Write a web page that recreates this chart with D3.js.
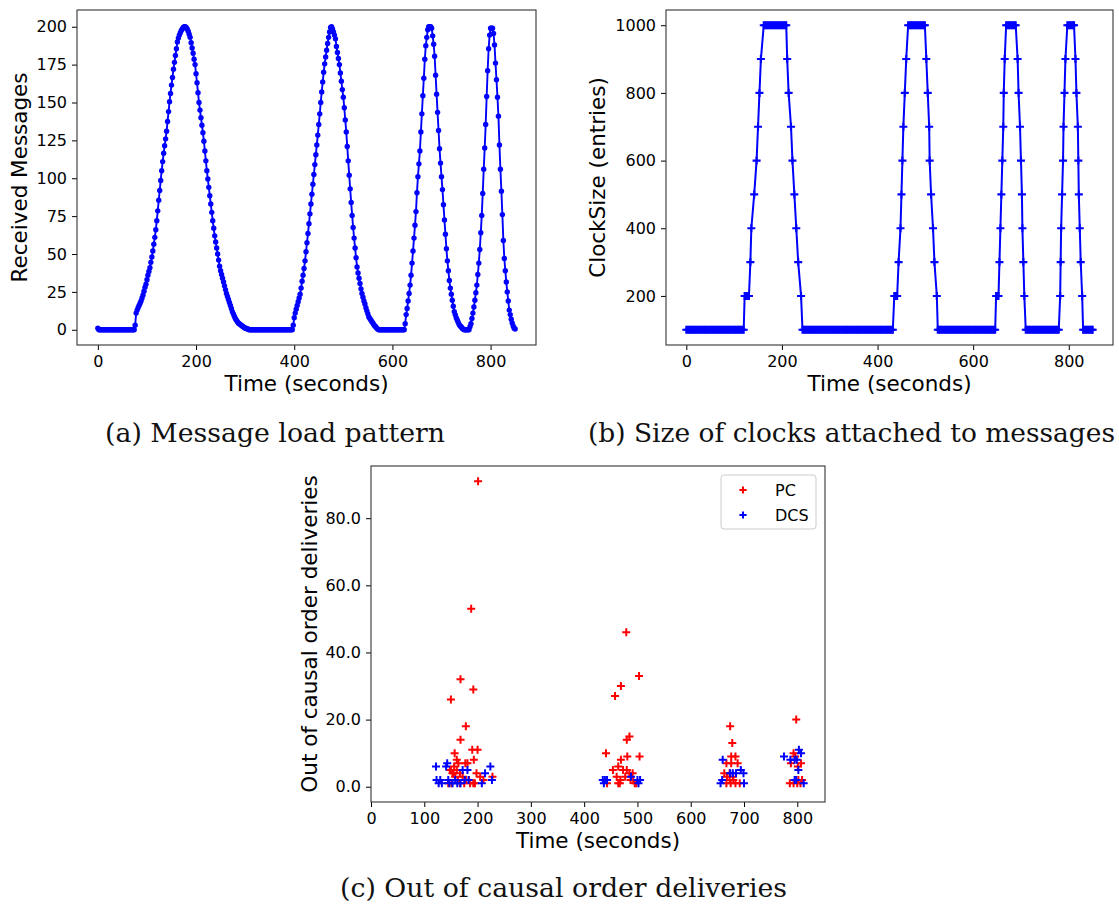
<!DOCTYPE html>
<html><head><meta charset="utf-8">
<script src="https://cdn.jsdelivr.net/npm/d3@7/dist/d3.min.js"></script>
<style>body{margin:0;background:#fff}svg{display:block}</style>
</head><body>
<svg id="fig" width="1119" height="910"></svg>
<script>
// ---------- (a) Message load pattern: one reading every LOAD_INTERVAL seconds from t = 0 ----------
const LOAD_START = 0;
const LOAD_INTERVAL = 2;
const loadValues = [
  1,0,0,0,0,0,0,0,0,0,
  0,0,0,0,0,0,0,0,0,0,
  0,0,0,0,0,0,0,0,0,0,
  0,0,0,0,0,0,0,0,3,11,
  13,14.5,16,17.5,19,21,23,25.5,28,30,
  33,36,38.5,41,44.5,48,52,56.5,61,66,
  72,78.5,85.5,92,98.5,105,111,116.5,121.5,126,
  131,137.5,144,150.5,156,161.5,166.5,172,176.5,181,
  185.5,190,192.5,194.5,196,197.5,198.5,199.5,200,200,
  199.5,198.5,197,195,193,189.5,186,182.5,178.5,175,
  169,163,156.5,150,145,140,135,130,124.5,118,
  111.5,105,99.5,94,88.5,83,77.5,72,67,62,
  58,54,50,46,42,39,36.5,34,31.5,29,
  26.5,24,22,20,18,16,14,12,10.5,9,
  7.5,6.5,5.5,4.5,4,3.5,3,2.5,2,1.5,
  1,1,0.5,0.5,0,0,0,0,0,0,
  0,0,0,0,0,0,0,0,0,0,
  0,0,0,0,0,0,0,0,0,0,
  0,0,0,0,0,0,0,0,0,0,
  0,0,0,0,0,0,0,0,0,3,
  8,11,13.5,16,18.5,21,23.5,27.5,32,36,
  40.5,45.5,51.5,57.5,63.5,70,76.5,83,89.5,96,
  102.5,109,115.5,122,128.5,135.5,142.5,150,157,163.5,
  170,175.5,180,184.5,189,193,196.5,199.5,200,198.5,
  196.5,194.5,192,187,183,179,175,169.5,164,158.5,
  153.5,146.5,138.5,130.5,121,111.5,102,93,84,75.5,
  67.5,60.5,54,47.5,41.5,37.5,34,30.5,27,24,
  21.5,19,17,14.5,12.5,10.5,8.5,7.5,6.5,5.5,
  4.5,3.5,2.5,2,1,0.5,0,0,0,0,
  0,0,0,0,0,0,0,0,0,0,
  0,0,0,0,0,0,0,0,0,0,
  0,0,0,4,10,14,19,24,29.5,36,
  44,52,60.5,69,78,90.5,101,109.5,118,130.5,
  142.5,154.5,166,178.5,187.5,193,198,200,200,200,
  199,194,188.5,180.5,168,155.5,143.5,131.5,119.5,110,
  101,92.5,82.5,72.5,63,53.5,45.5,39,32.5,27.5,
  23.5,19.5,15.5,12,10,8,6.5,5,3.5,2.5,
  2,1,0.5,0,0,0,0,0,0,2,
  4,7.5,11,15,19.5,24.5,29.5,36.5,44,53,
  64,75.5,90,106,120,135.5,154,171,185.5,194.5,
  199,199,199,195.5,188,176,165,153.5,141,122,
  106,91.5,76,59,47,39,31.5,25,19,13,
  10,7,4.5,2.5,1,0.5
];
const loadTicksX = [0, 200, 400, 600, 800];
const loadTicksY = [0, 25, 50, 75, 100, 125, 150, 175, 200];

// ---------- (b) Size of clocks attached to messages ----------
const clockTimes = [
  0,3,6,9,12,15,18,21,24,27,30,33,36,39,42,45,48,51,54,57,60,63,66,69,72,75,78,81,84,87,90,93,96,99,102,105,108,111,114,117,120,
  122,125,128,131,134,136,142,147,150,153,156,162,
  165,168,171,174,177,180,183,186,189,192,195,198,201,204,207,209,
  211,214,219,222,226,230,234,240,243,
  246,249,252,255,258,261,264,267,270,273,276,279,282,285,288,291,294,297,300,303,306,309,312,315,318,321,324,327,330,333,336,339,342,345,348,351,354,357,360,363,366,369,372,375,378,381,384,387,390,393,396,399,402,405,408,411,414,417,420,423,426,429,432,
  435,438,441,444,448,450,452,454,457,460,464,
  467,470,473,476,479,482,485,488,491,494,497,499,
  502,505,508,509,512,516,519,524,526,
  529,532,535,538,541,544,547,550,553,556,559,562,565,568,571,574,577,580,583,586,589,592,595,598,601,604,607,610,613,616,619,622,625,628,631,634,637,640,643,646,
  648,651,653,655,657,659,661,663,664,666,669,
  672,675,678,681,684,687,689,
  693,695,698,700,702,703,705,707,710,
  713,716,719,722,725,728,731,734,737,740,743,746,749,752,755,758,761,764,767,770,773,776,779,
  782,783,784,786,788,789,791,793,797,
  800,803,806,809,811,
  814,816,819,820,821,823,825,828,830,
  833,836,839,842,845,848,850
];
const clockSizes = [
  100,100,100,100,100,100,100,100,100,100,100,100,100,100,100,100,100,100,100,100,100,100,100,100,100,100,100,100,100,100,100,100,100,100,100,100,100,100,100,100,100,
  200,200,200,200,300,400,500,600,700,800,900,1000,
  1000,1000,1000,1000,1000,1000,1000,1000,1000,1000,1000,1000,1000,1000,1000,1000,
  900,800,700,600,500,400,300,200,100,
  100,100,100,100,100,100,100,100,100,100,100,100,100,100,100,100,100,100,100,100,100,100,100,100,100,100,100,100,100,100,100,100,100,100,100,100,100,100,100,100,100,100,100,100,100,100,100,100,100,100,100,100,100,100,100,100,100,100,100,100,100,100,100,
  200,200,200,300,400,500,600,700,800,900,1000,
  1000,1000,1000,1000,1000,1000,1000,1000,1000,1000,1000,1000,
  900,800,700,600,500,400,300,200,100,
  100,100,100,100,100,100,100,100,100,100,100,100,100,100,100,100,100,100,100,100,100,100,100,100,100,100,100,100,100,100,100,100,100,100,100,100,100,100,100,100,
  200,200,200,300,400,500,600,700,800,900,1000,
  1000,1000,1000,1000,1000,1000,1000,
  900,800,700,600,500,400,300,200,100,
  100,100,100,100,100,100,100,100,100,100,100,100,100,100,100,100,100,100,100,100,100,100,100,
  200,300,400,500,600,700,800,900,1000,
  1000,1000,1000,1000,1000,
  900,800,700,600,500,400,300,200,100,
  100,100,100,100,100,100,100
];
const clockTicksX = [0, 200, 400, 600, 800];
const clockTicksY = [200, 400, 600, 800, 1000];

// ---------- (c) Out of causal order deliveries ----------
const pcTimes = [
  201,188,168,192,150,178,168,157,190,200,193,161,177,181,156,164,150,155,161,167,148,153,158,172,178,198,205,211,228,186,192,145,151,167,195,163,184,175,
  479,503,469,458,485,480,441,481,504,469,454,464,473,480,485,477,491,461,468,487,492,443,464,467,495,498,
  674,678,676,684,667,676,688,663,673,668,679,667,675,684,692,673,680,
  798,793,796,788,807,801,786,793,800,806,809,802
];
const pcCounts = [
  91,53,32,29,26,18,14,10,11,11,8,8,7,7,6,7,5,4,5,4,5,4,3,3,2,4,3,2,3,1,1,1,1,1,1,2,2,1,
  46,33,30,27,15,14,10,9,9,8,5,6,5,5,4,3,4,3,2,2,2,1,1,1,1,1,
  18,13,9,9,7,7,7,4,4,3,3,1,1,1,1,2,2,
  20,10,9,7,7,6,1,1,1,1,2,2
];
const dcsTimes = [
  122,123,127,130,133,141,143,145,147,153,158,162,168,172,176,181,183,208,214,224,227,
  435,437,439,443,488,500,502,505,
  660,674,679,685,694,699,656,659,700,
  775,787,795,803,807,799,802,795,798,812
];
const dcsCounts = [
  6,2,1,2,1,6,7,2,1,1,2,1,1,5,2,5,2,1,4,6,2,
  2,1,2,2,3,2,1,2,
  8,4,4,4,5,4,1,2,1,
  9,8,8,11,10,8,5,2,2,1
];
const oooTicksX = [0, 100, 200, 300, 400, 500, 600, 700, 800];
const oooTicksY = [0, 20, 40, 60, 80];
const seriesNames = ["PC", "DCS"];

const captionTexts = [
  "(a) Message load pattern",
  "(b) Size of clocks attached to messages",
  "(c) Out of causal order deliveries"
];
const axisTitles = {
  time: "Time (seconds)",
  load: "Received Messages",
  clock: "ClockSize (entries)",
  ooo: "Out of causal order deliveries"
};

// ---------- drawing ----------
const svg = d3.select('#fig');
const SANS = "'DejaVu Sans', sans-serif";
const SERIF = "'DejaVu Serif', serif";
const BLUE = '#0000ff', RED = '#ff0000';
const defs = svg.append('defs');

function makePanel(cfg) {
  const {l, t, r, b} = cfg.box;
  const x = d3.scaleLinear().domain(cfg.xDomain).range([l, r]);
  const y = d3.scaleLinear().domain(cfg.yDomain).range([b, t]);
  const g = svg.append('g');
  defs.append('clipPath').attr('id', 'clip-' + cfg.id)
    .append('rect').attr('x', l).attr('y', t).attr('width', r - l).attr('height', b - t);
  const plot = g.append('g').attr('clip-path', `url(#clip-${cfg.id})`);

  const xa = g.append('g').attr('transform', `translate(0,${b})`)
    .call(d3.axisBottom(x).tickValues(cfg.xTicks).tickSize(5).tickPadding(6).tickFormat(d3.format('d')));
  const ya = g.append('g').attr('transform', `translate(${l},0)`)
    .call(d3.axisLeft(y).tickValues(cfg.yTicks).tickSize(5).tickPadding(5).tickFormat(cfg.yFmt || d3.format('d')));
  [xa, ya].forEach(a => {
    a.select('.domain').remove();
    a.selectAll('line').attr('stroke', '#000').attr('stroke-width', 1);
    a.selectAll('text').attr('font-family', SANS).attr('font-size', 16).attr('fill', '#000');
  });
  g.append('rect').attr('x', l).attr('y', t).attr('width', r - l).attr('height', b - t)
    .attr('fill', 'none').attr('stroke', '#333').attr('stroke-width', 1.1);

  g.append('text').attr('x', (l + r) / 2).attr('y', b + 46)
    .attr('text-anchor', 'middle').attr('font-family', SANS).attr('font-size', 21.5)
    .text(cfg.xTitle);
  g.append('text').attr('transform', `translate(${cfg.yTitleX},${(t + b) / 2}) rotate(-90)`)
    .attr('text-anchor', 'middle').attr('font-family', SANS).attr('font-size', 21.5)
    .text(cfg.yTitle);
  return {x, y, plot, g};
}

function plusPath(s) { return `M${-s},0H${s}M0,${-s}V${s}`; }

// (a)
{
  const P = makePanel({id: 'a', box: {l: 77, t: 10, r: 536, b: 345},
    xDomain: [-42.5, 892.5], yDomain: [-10.05, 211.05],
    xTicks: loadTicksX, yTicks: loadTicksY,
    xTitle: axisTitles.time, yTitle: axisTitles.load, yTitleX: 27});
  const pts = loadValues.map((v, i) => [LOAD_START + i * LOAD_INTERVAL, v]);
  P.plot.append('path').datum(pts)
    .attr('d', d3.line().x(d => P.x(d[0])).y(d => P.y(d[1])))
    .attr('fill', 'none').attr('stroke', BLUE).attr('stroke-width', 1.9);
  P.plot.selectAll('circle').data(pts).join('circle')
    .attr('cx', d => P.x(d[0])).attr('cy', d => P.y(d[1])).attr('r', 2.7).attr('fill', BLUE);
}

// (b)
{
  const P = makePanel({id: 'b', box: {l: 666, t: 10, r: 1113, b: 345},
    xDomain: [-42.5, 892.5], yDomain: [55, 1045],
    xTicks: clockTicksX, yTicks: clockTicksY,
    xTitle: axisTitles.time, yTitle: axisTitles.clock, yTitleX: 605});
  const pts = clockTimes.map((t, i) => [t, clockSizes[i]]);
  P.plot.append('path').datum(pts)
    .attr('d', d3.line().x(d => P.x(d[0])).y(d => P.y(d[1])))
    .attr('fill', 'none').attr('stroke', BLUE).attr('stroke-width', 2);
  P.plot.selectAll('path.m').data(pts).join('path').attr('class', 'm')
    .attr('transform', d => `translate(${P.x(d[0])},${P.y(d[1])})`)
    .attr('d', plusPath(4)).attr('stroke', BLUE).attr('stroke-width', 2.1).attr('fill', 'none');
}

// (c)
{
  const P = makePanel({id: 'c', box: {l: 371, t: 466, r: 825, b: 802},
    xDomain: [0, 852], yDomain: [-4.55, 95.55],
    xTicks: oooTicksX, yTicks: oooTicksY, yFmt: d3.format('.1f'),
    xTitle: axisTitles.time, yTitle: axisTitles.ooo, yTitleX: 317});
  const series = [
    {name: seriesNames[0], color: RED, pts: pcTimes.map((t, i) => [t, pcCounts[i]])},
    {name: seriesNames[1], color: BLUE, pts: dcsTimes.map((t, i) => [t, dcsCounts[i]])}
  ];
  series.forEach(s => {
    P.plot.append('g').selectAll('path').data(s.pts).join('path')
      .attr('transform', d => `translate(${P.x(d[0])},${P.y(d[1])})`)
      .attr('d', plusPath(4)).attr('stroke', s.color).attr('stroke-width', 2).attr('fill', 'none');
  });
  // legend
  const lg = P.g.append('g');
  lg.append('rect').attr('x', 721).attr('y', 475).attr('width', 95).attr('height', 54).attr('rx', 3)
    .attr('fill', '#fff').attr('fill-opacity', 0.8).attr('stroke', '#cccccc').attr('stroke-width', 1);
  series.forEach((s, i) => {
    const yy = 490 + i * 25;
    lg.append('path').attr('transform', `translate(743,${yy})`).attr('d', plusPath(3.6))
      .attr('stroke', s.color).attr('stroke-width', 2).attr('fill', 'none');
    lg.append('text').attr('x', 775).attr('y', yy + 6).attr('font-family', SANS).attr('font-size', 16)
      .attr('fill', '#000').text(s.name);
  });
}

// captions
const capLayout = [
  {x: 105, y: 442, w: 340},
  {x: 588, y: 442, w: 527},
  {x: 340, y: 897, w: 447}
];
captionTexts.forEach((txt, i) => {
  const c = capLayout[i];
  svg.append('text').attr('x', c.x).attr('y', c.y).attr('font-family', SERIF).attr('font-size', 26)
    .attr('textLength', c.w).attr('lengthAdjust', 'spacingAndGlyphs').attr('fill', '#111').text(txt);
});
</script>
</body></html>
